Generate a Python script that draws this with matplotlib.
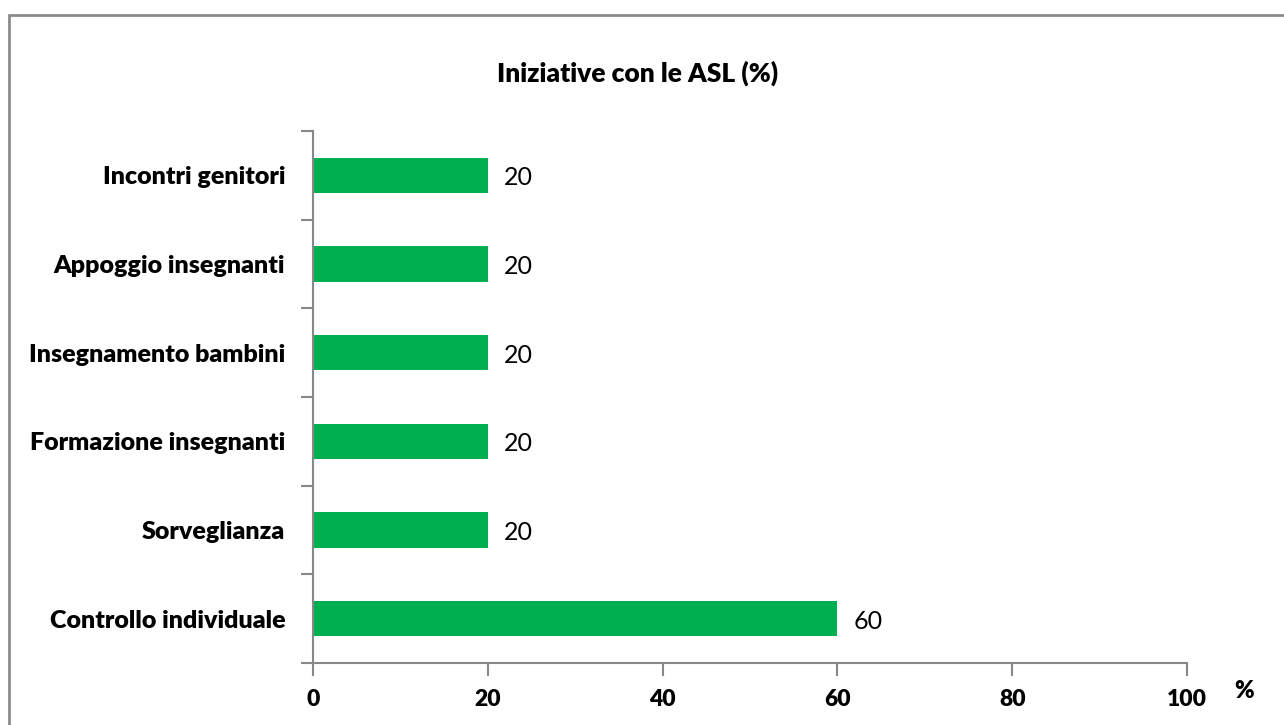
import matplotlib
matplotlib.use("Agg")
import matplotlib.pyplot as plt
from matplotlib.patches import Rectangle

categories = ["Controllo individuale", "Sorveglianza", "Formazione insegnanti",
              "Insegnamento bambini", "Appoggio insegnanti", "Incontri genitori"]
values = [60, 20, 20, 20, 20, 20]
xticks = [0, 20, 40, 60, 80, 100]

plt.rcParams['font.family'] = ['Lato', 'DejaVu Sans']

W, H = 1284, 725
fig = plt.figure(figsize=(W / 100, H / 100), dpi=100)
fig.patches.append(Rectangle((9 / W, -0.01), 1.02, 1 - 15 / H + 0.01, transform=fig.transFigure,
                             fill=False, edgecolor='#8c8c8c', linewidth=2, zorder=0))
ax = fig.add_axes([313 / W, (H - 663) / H, (1187 - 313) / W, (663 - 131) / H])

ypos = list(range(len(categories)))
ax.barh(ypos, values, height=0.4, color='#00b050', zorder=2)
for y, v in zip(ypos, values):
    ax.text(v + 1.8, y - 0.03, str(v), va='center', ha='left', fontsize=18, color='black')

ax.set_xlim(0, 100)
ax.set_ylim(-0.5, len(categories) - 0.5)
ax.set_xticks(xticks)
ax.set_xticklabels([str(t) for t in xticks], fontsize=16.5, fontweight='heavy')
ax.set_yticks([i - 0.5 for i in range(len(categories) + 1)])
ax.set_yticklabels([])
ax.set_yticks(ypos, minor=True)
ax.set_yticklabels(categories, minor=True, fontsize=18, fontweight='heavy')
ax.tick_params(axis='y', which='minor', length=0, pad=20)
ax.tick_params(axis='y', which='major', length=9, width=1.5, color='#888888', direction='out')
ax.tick_params(axis='x', length=9, width=1.5, color='#888888', direction='out', pad=10)
for s in ['top', 'right']:
    ax.spines[s].set_visible(False)
for s in ['left', 'bottom']:
    ax.spines[s].set_color('#888888')
    ax.spines[s].set_linewidth(1.5)

fig.text(638 / W, (H - 73) / H, "Iniziative con le ASL (%)", ha='center', va='center',
         fontsize=19, fontweight='heavy')
fig.text(1244 / W, (H - 691) / H, "%", ha='center', va='center', fontsize=17, fontweight='heavy')

fig.savefig("out.png", dpi=100)
